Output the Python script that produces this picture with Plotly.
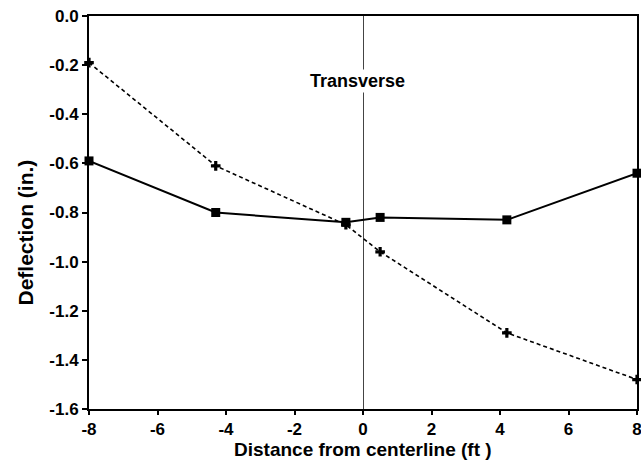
import plotly.graph_objects as go

# Distance from centerline (ft)
distance_ft = [-8.0, -4.3, -0.5, 0.5, 4.2, 8.0]
# Deflection (in.) - solid line with square markers
deflection_solid = [-0.59, -0.80, -0.84, -0.82, -0.83, -0.64]
# Deflection (in.) - dashed line with plus markers
deflection_dashed = [-0.19, -0.61, -0.85, -0.96, -1.29, -1.48]

x_ticks = [-8, -6, -4, -2, 0, 2, 4, 6, 8]
y_ticks = [0.0, -0.2, -0.4, -0.6, -0.8, -1.0, -1.2, -1.4, -1.6]
y_tick_labels = ["0.0", "-0.2", "-0.4", "-0.6", "-0.8", "-1.0", "-1.2", "-1.4", "-1.6"]

FONT = "Liberation Sans, Arial, Helvetica, sans-serif"

fig = go.Figure()
fig.add_trace(go.Scatter(
    x=distance_ft, y=deflection_dashed, mode="lines+markers",
    line=dict(color="black", width=1.6, dash="4px,3px"),
    marker=dict(symbol="cross", size=8, color="black"),
    showlegend=False, cliponaxis=False,
))
fig.add_trace(go.Scatter(
    x=distance_ft, y=deflection_solid, mode="lines+markers",
    line=dict(color="black", width=2),
    marker=dict(symbol="square", size=9, color="black"),
    showlegend=False, cliponaxis=False,
))

fig.add_annotation(
    x=-0.15, y=-0.265, text="Transverse", showarrow=False,
    font=dict(family=FONT, size=18, color="black", weight="bold"),
    bgcolor="white", xanchor="center", yanchor="middle",
)
# axis titles placed as paper annotations for exact position
fig.add_annotation(
    xref="paper", yref="paper", x=0.5, y=0, yshift=-40,
    text="Distance from centerline (ft )", showarrow=False,
    font=dict(family=FONT, size=19, color="black", weight="bold"),
    xanchor="center", yanchor="middle",
)
fig.add_annotation(
    xref="paper", yref="paper", x=0, xshift=-64, y=0.5, yshift=-20,
    text="Deflection (in.)", showarrow=False, textangle=-90,
    font=dict(family=FONT, size=21, color="black", weight="bold"),
    xanchor="center", yanchor="middle",
)

fig.update_xaxes(
    range=[-8, 8], tickvals=x_ticks, ticktext=[str(v) for v in x_ticks],
    showgrid=False, zeroline=True, zerolinecolor="#444", zerolinewidth=1,
    showline=True, linecolor="black", linewidth=2, mirror=True,
    ticks="outside", ticklen=4, tickwidth=1.5, tickcolor="black",
    tickfont=dict(family=FONT, size=17, color="black", weight="bold"),
    automargin=False, ticklabeloverflow="allow",
)
fig.update_yaxes(
    range=[-1.6, 0.0], tickvals=y_ticks, ticktext=y_tick_labels,
    showgrid=False, zeroline=False,
    showline=True, linecolor="black", linewidth=2, mirror=True,
    ticks="outside", ticklen=5, tickwidth=1.5, tickcolor="black",
    tickfont=dict(family=FONT, size=17, color="black", weight="bold"),
    automargin=False, ticklabeloverflow="allow",
)

fig.update_layout(
    width=641, height=461,
    margin=dict(l=89, r=4, t=16, b=52),
    paper_bgcolor="white", plot_bgcolor="white",
)

fig.write_html("out.html", config={"displayModeBar": False},
               post_script="document.body.style.margin='0';")
